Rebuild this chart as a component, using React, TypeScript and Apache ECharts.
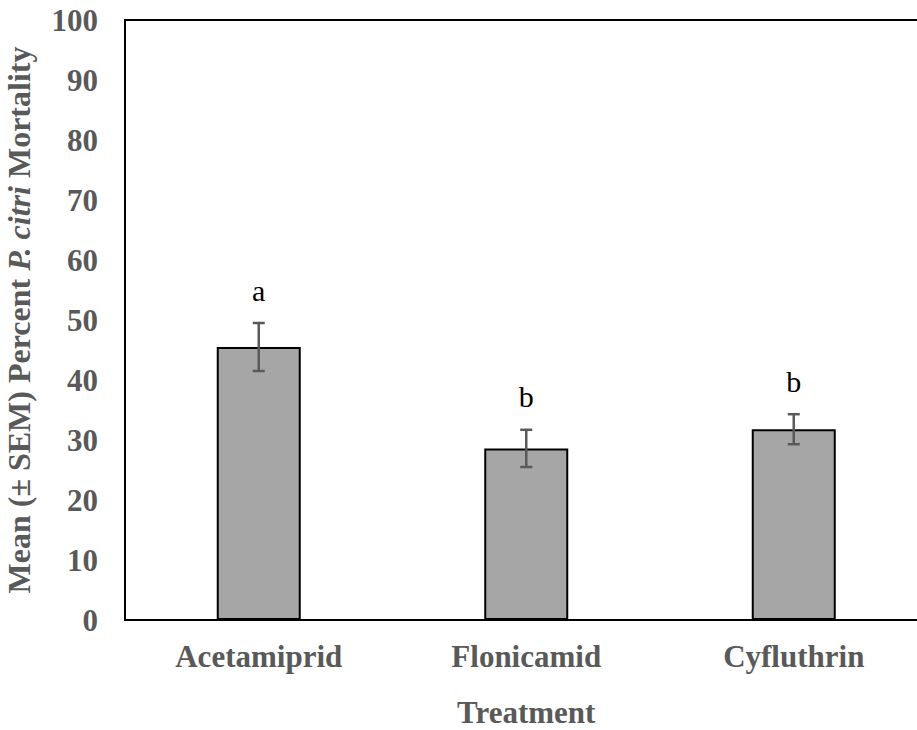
import React, { useEffect, useRef } from "react";
import * as echarts from "echarts";

const categories = ["Acetamiprid", "Flonicamid", "Cyfluthrin"];
const means = [45.5, 28.6, 31.8];
const sems = [4.0, 3.1, 2.5];
const letters = ["a", "b", "b"];
const yTicks = [0, 10, 20, 30, 40, 50, 60, 70, 80, 90, 100];

const FONT = "'Liberation Serif', 'Times New Roman', serif";
const GRAY = "#595959";

export default function App() {
  const ref = useRef<HTMLDivElement>(null);
  useEffect(() => {
    document.body.style.margin = "0";
    const chart = echarts.init(ref.current!, null, { renderer: "svg" });
    const errData = categories.map((c, i) => [i, means[i] - sems[i], means[i] + sems[i], letters[i]]);
    chart.setOption({
      animation: false,
      backgroundColor: "#fff",
      grid: {
        left: 125,
        top: 20,
        width: 802.5,
        height: 600,
        show: true,
        borderColor: "#000",
        borderWidth: 2,
        backgroundColor: "transparent",
        outerBoundsMode: "none",
        containLabel: false,
      },
      xAxis: {
        type: "category",
        data: categories,
        axisLine: { show: true, lineStyle: { color: "#000", width: 2 } },
        axisTick: { show: false },
        axisLabel: {
          color: GRAY,
          fontFamily: FONT,
          fontWeight: "bold",
          fontSize: 31,
          margin: 21,
        },
        name: "Treatment",
        nameLocation: "middle",
        nameGap: 77,
        nameTextStyle: { color: GRAY, fontFamily: FONT, fontWeight: "bold", fontSize: 31, lineHeight: 31 },
      },
      yAxis: {
        type: "value",
        min: 0,
        max: 100,
        interval: 10,
        splitLine: { show: false },
        axisLine: { show: true, lineStyle: { color: "#000", width: 2 } },
        axisTick: { show: false },
        axisLabel: {
          color: GRAY,
          fontFamily: FONT,
          fontWeight: "bold",
          fontSize: 31,
          margin: 27,
          formatter: (v: number) => (yTicks.includes(v) ? String(v) : ""),
        },
        name: "Mean (± SEM) Percent {i|P. citri} Mortality",
        nameLocation: "middle",
        nameGap: 90,
        nameTextStyle: {
          color: GRAY,
          fontFamily: FONT,
          fontWeight: "bold",
          fontSize: 32,
          rich: {
            i: { color: GRAY, fontFamily: FONT, fontWeight: "bold", fontStyle: "italic", fontSize: 32 },
          },
        },
      },
      series: [
        {
          type: "bar",
          data: means,
          barWidth: 84,
          itemStyle: { color: "#a6a6a6", borderColor: "#000", borderWidth: 2 },
          silent: true,
        },
        {
          type: "custom",
          data: errData,
          silent: true,
          z: 10,
          renderItem: (params: any, api: any) => {
            const x = api.value(0);
            const lo = api.coord([x, api.value(1)]);
            const hi = api.coord([x, api.value(2)]);
            const hw = 6;
            const idx = params.dataIndex;
            const style = { stroke: GRAY, lineWidth: 2.5 };
            return {
              type: "group",
              children: [
                { type: "line", shape: { x1: hi[0], y1: hi[1], x2: lo[0], y2: lo[1] }, style },
                { type: "line", shape: { x1: hi[0] - hw, y1: hi[1], x2: hi[0] + hw, y2: hi[1] }, style },
                { type: "line", shape: { x1: lo[0] - hw, y1: lo[1], x2: lo[0] + hw, y2: lo[1] }, style },
                {
                  type: "text",
                  x: hi[0],
                  y: hi[1] - 18,
                  style: {
                    text: letters[idx],
                    fill: "#000",
                    font: `30px ${FONT}`,
                    align: "center",
                    verticalAlign: "bottom",
                  },
                },
              ],
            };
          },
        },
      ],
    });
    return () => chart.dispose();
  }, []);
  return <div ref={ref} style={{ width: 917, height: 730 }} />;
}
